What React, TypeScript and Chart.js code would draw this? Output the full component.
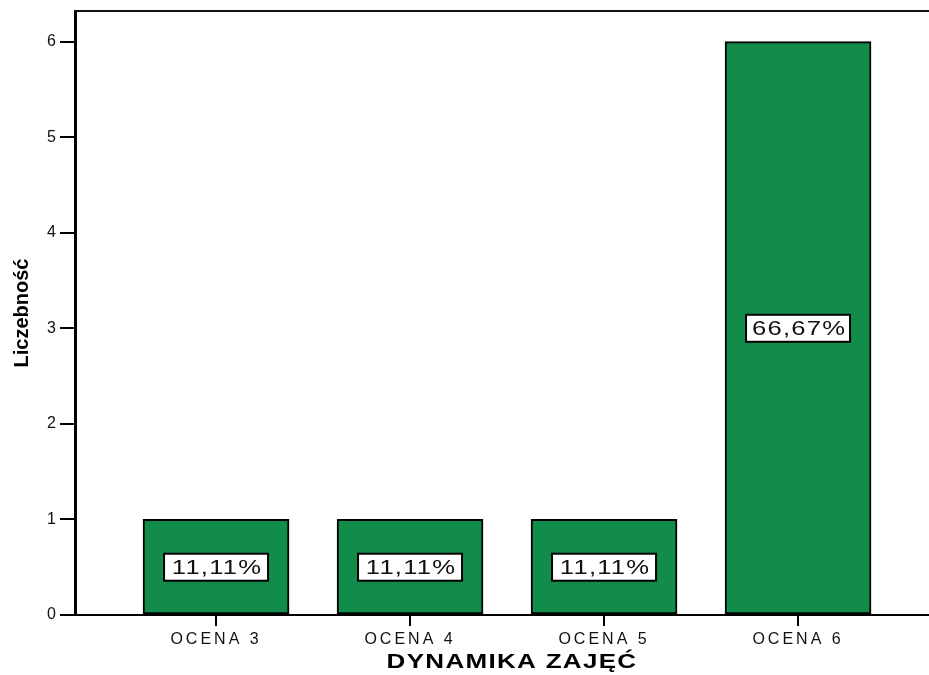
import React, { useEffect, useRef } from "react";
import { Chart, registerables } from "chart.js";

Chart.register(...registerables);

const categories = ["OCENA 3", "OCENA 4", "OCENA 5", "OCENA 6"];
const counts = [1, 1, 1, 6];
const percentLabels = ["11,11%", "11,11%", "11,11%", "66,67%"];
const yTicks = [0, 1, 2, 3, 4, 5, 6];
const xTitle = "DYNAMIKA ZAJĘĆ";
const yTitle = "Liczebność";

const GREEN = "#118c4a";
const FONT = "'Liberation Sans', Arial, sans-serif";

export default function App() {
  const ref = useRef<HTMLCanvasElement | null>(null);

  useEffect(() => {
    document.body.style.margin = "0";
    const canvas = ref.current;
    if (!canvas) return;

    const decor = {
      id: "decor",
      beforeDraw(chart: any) {
        (chart.ctx as any).letterSpacing = "3px";
      },
      beforeDatasetsDraw(chart: any) {
        const { ctx, chartArea } = chart;
        ctx.save();
        ctx.strokeStyle = "#111";
        ctx.lineWidth = 2;
        ctx.beginPath();
        ctx.moveTo(chartArea.left, chartArea.top);
        ctx.lineTo(chartArea.right, chartArea.top);
        ctx.stroke();
        ctx.restore();
      },
      afterDatasetsDraw(chart: any) {
        const { ctx } = chart;
        const meta = chart.getDatasetMeta(0);
        const ys = chart.scales.y;
        meta.data.forEach((bar: any, i: number) => {
          const cx = bar.x;
          const cy = ys.getPixelForValue(counts[i] / 2);
          const w = 104;
          const h = 27;
          ctx.save();
          ctx.fillStyle = "#fff";
          ctx.fillRect(cx - w / 2, cy - h / 2, w, h);
          ctx.strokeStyle = "#000";
          ctx.lineWidth = 2;
          ctx.strokeRect(cx - w / 2, cy - h / 2, w, h);
          (ctx as any).letterSpacing = "1px";
          ctx.font = `21px ${FONT}`;
          ctx.fillStyle = "#111";
          ctx.textAlign = "center";
          ctx.textBaseline = "middle";
          ctx.translate(cx + 1, cy + 1);
          ctx.scale(1.22, 1);
          ctx.fillText(percentLabels[i], 0, 0);
          ctx.restore();
        });
      },
      afterDraw(chart: any) {
        const { ctx, chartArea } = chart;
        ctx.save();
        ctx.fillStyle = "#000";
        ctx.textAlign = "center";
        ctx.textBaseline = "middle";
        (ctx as any).letterSpacing = "1px";
        ctx.font = `bold 20px ${FONT}`;
        ctx.translate(512, 662);
        ctx.scale(1.3, 1);
        ctx.fillText(xTitle, 0, 0);
        ctx.restore();
        ctx.save();
        ctx.fillStyle = "#000";
        ctx.textAlign = "center";
        ctx.textBaseline = "middle";
        (ctx as any).letterSpacing = "0px";
        ctx.font = `bold 20px ${FONT}`;
        ctx.translate(22, (chartArea.top + chartArea.bottom) / 2);
        ctx.rotate(-Math.PI / 2);
        ctx.fillText(yTitle, 0, 0);
        ctx.restore();
      },
    };

    const chart = new Chart(canvas, {
      type: "bar",
      data: {
        datasets: [
          {
            data: counts.map((v, i) => ({ x: i + 1, y: v })),
            backgroundColor: GREEN,
            borderColor: "#000",
            borderWidth: 2,
            borderSkipped: false,
            barThickness: 146,
          },
        ],
      },
      options: {
        animation: false,
        responsive: true,
        maintainAspectRatio: false,
        layout: { padding: { top: 11, right: 0, left: 0, bottom: 0 } },
        plugins: {
          legend: { display: false },
          tooltip: { enabled: false },
        },
        scales: {
          x: {
            type: "linear",
            offset: false,
            min: 0.273,
            max: 4.675,
            afterBuildTicks: (s: any) => {
              s.ticks = categories.map((_, i) => ({ value: i + 1 }));
            },
            afterFit: (s: any) => {
              s.height = 60;
            },
            ticks: {
              autoSkip: false,
              maxRotation: 0,
              padding: 4,
              color: "#111",
              font: { family: FONT, size: 16 },
              callback: (v: any) => categories[Math.round(Number(v)) - 1] ?? "",
            },
            grid: {
              offset: false,
              drawOnChartArea: false,
              drawTicks: true,
              tickLength: 11,
              lineWidth: 2,
              color: "#000",
            },
            border: { display: true, color: "#000", width: 2 },
          },
          y: {
            min: 0,
            max: 6.32,
            afterBuildTicks: (s: any) => {
              s.ticks = yTicks.map((v) => ({ value: v }));
            },
            afterFit: (s: any) => {
              s.width = 75;
            },
            ticks: {
              padding: 1,
              color: "#111",
              font: { family: FONT, size: 16 },
            },
            grid: {
              drawOnChartArea: false,
              drawTicks: true,
              tickLength: 15,
              lineWidth: 2,
              color: "#000",
            },
            border: { display: true, color: "#000", width: 3 },
          },
        },
      },
      plugins: [decor],
    } as any);

    return () => chart.destroy();
  }, []);

  return (
    <div style={{ width: 929, height: 675, position: "relative" }}>
      <canvas ref={ref} />
    </div>
  );
}
